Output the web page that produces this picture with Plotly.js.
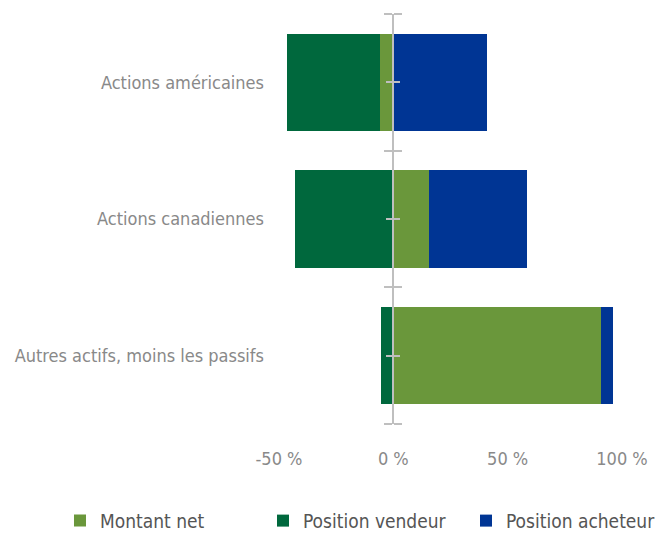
<!DOCTYPE html>
<html><head><meta charset="utf-8">
<script src="https://cdn.plot.ly/plotly-3.0.1.min.js"></script>
<style>html,body{margin:0;padding:0;background:#fff}#c{width:662px;height:533px}</style>
</head><body><div id="c"></div>
<script>
const categories = ["Actions américaines", "Actions canadiennes", "Autres actifs, moins les passifs"];
const montantNet = [-0.057, 0.155, 0.908];
const positionVendeur = [-0.465, -0.43, -0.052];
const positionAcheteur = [0.408, 0.585, 0.96];
const xTickVals = [-0.5, 0, 0.5, 1];
const xTickText = ["-50 %", "0 %", "50 %", "100 %"];
const axisBoundaries = [-0.5, 0.5, 1.5, 2.5];
const axisCenters = [0, 1, 2];

const FONT = "'DejaVu Sans Condensed', 'Liberation Sans', sans-serif";
const W = 0.71;
const traces = [
  {type:'bar', orientation:'h', name:'Position vendeur', y:categories, x:positionVendeur, width:W, marker:{color:'#00683d'}, legendrank:2},
  {type:'bar', orientation:'h', name:'Position acheteur', y:categories, x:positionAcheteur, width:W, marker:{color:'#003594'}, legendrank:3},
  {type:'bar', orientation:'h', name:'Montant net', y:categories, x:montantNet, width:W, marker:{color:'#6a973b'}, legendrank:1},
  {type:'scatter', mode:'none', x:axisCenters.map(() => 0), y:axisCenters, yaxis:'y2', showlegend:false, hoverinfo:'skip'},
  {type:'scatter', mode:'none', x:axisCenters.map(() => 0), y:axisCenters, yaxis:'y3', showlegend:false, hoverinfo:'skip'}
];
const xr = [-0.5, 1.0];
const pos = (0 - xr[0]) / (xr[1] - xr[0]);
const overlayAxis = (side) => ({
  overlaying:'y', anchor:'free', position:pos, side:side,
  range:[2.5, -0.5], autorange:false, showgrid:false, zeroline:false,
  showline:side === 'left', linecolor:'#bfbfbf', linewidth:2,
  tickmode:'array', tickvals:axisBoundaries, ticks:'outside', ticklen:8, tickwidth:2, tickcolor:'#bfbfbf',
  showticklabels:false,
  minor:{tickmode:'array', tickvals:axisCenters, ticks:'outside', ticklen:6, tickwidth:2, tickcolor:'#bfbfbf', showgrid:false}
});
const layout = {
  width:662, height:533,
  margin:{l:279, r:40, t:14, b:109, autoexpand:false},
  barmode:'overlay',
  paper_bgcolor:'#fff', plot_bgcolor:'#fff',
  font:{family:FONT, color:'#898989', size:18},
  xaxis:{range:xr, tickmode:'array', tickvals:xTickVals, ticktext:xTickText, showgrid:false, zeroline:false, showline:false,
         ticks:'', ticklabelstandoff:22, tickfont:{size:18, color:'#898989'}, fixedrange:true},
  yaxis:{type:'category', autorange:'reversed', showgrid:false, zeroline:false, showline:false, ticks:'',
         ticklabelstandoff:14, tickfont:{size:18, color:'#898989'}},
  yaxis2: overlayAxis('left'),
  yaxis3: overlayAxis('right'),
  showlegend:true,
  legend:{orientation:'h', x:-0.6385, xref:'paper', xanchor:'left', y:-0.236, yref:'paper', yanchor:'middle',
          font:{size:19, color:'#555555'}, traceorder:'normal', entrywidth:158, bgcolor:'rgba(0,0,0,0)'},
  bargap:0
};
Plotly.newPlot('c', traces, layout, {displayModeBar:false, staticPlot:true});
</script></body></html>
